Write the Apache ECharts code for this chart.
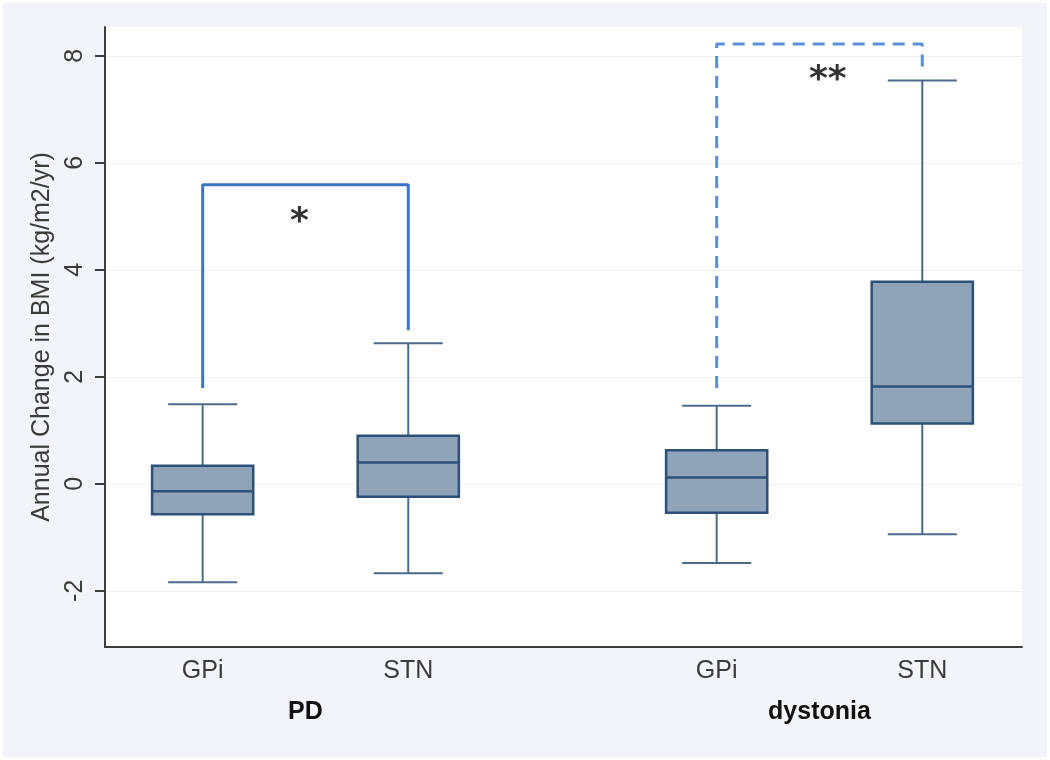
<!DOCTYPE html>
<html>
<head>
<meta charset="utf-8">
<script src="https://cdn.jsdelivr.net/npm/echarts@6/dist/echarts.min.js"></script>
<style>
html,body{margin:0;padding:0;background:#ffffff;}
#chart{position:absolute;left:3px;top:3px;width:1044px;height:754px;}
</style>
</head>
<body>
<div id="chart"></div>
<script>
// ---- data ----
const categories = ['GPi', 'STN', 'GPi', 'STN'];
const positions = [1, 2, 3.5, 4.5];
const groups = ['PD', 'dystonia'];
const groupCenters = [1.5, 4];
const whiskerLow = [-1.84, -1.67, -1.48, -0.94];
const q1 = [-0.57, -0.24, -0.54, 1.13];
const median = [-0.14, 0.40, 0.12, 1.82];
const q3 = [0.34, 0.90, 0.63, 3.78];
const whiskerHigh = [1.49, 2.63, 1.46, 7.54];
const yTicks = [-2, 0, 2, 4, 6, 8];
const bracketPD = [[1, 1.79], [1, 5.59], [2, 5.59], [2, 2.87]];
const bracketDys = [[3.5, 1.79], [3.5, 8.22], [4.5, 8.22], [4.5, 7.71]];
const starLabels = ['*', '**'];
const starPos = [[1.47, 4.88], [4.04, 7.53]];

const boxData = positions.map((p, i) => [p, whiskerLow[i], q1[i], median[i], q3[i], whiskerHigh[i]]);

const chart = echarts.init(document.getElementById('chart'));
const FONT = 'Liberation Sans, Arial, sans-serif';

function renderBox(params, api) {
  const x = api.value(0);
  const lo = api.value(1), a = api.value(2), m = api.value(3), b = api.value(4), hi = api.value(5);
  const hb = 0.246, hc = 0.168;
  const pLo = api.coord([x, lo]), pA = api.coord([x, a]), pM = api.coord([x, m]), pB = api.coord([x, b]), pHi = api.coord([x, hi]);
  const xl = api.coord([x - hb, 0])[0], xr = api.coord([x + hb, 0])[0];
  const cl = api.coord([x - hc, 0])[0], cr = api.coord([x + hc, 0])[0];
  const wStyle = {stroke: '#4b6b8d', lineWidth: 2};
  return {
    type: 'group',
    children: [
      {type: 'line', shape: {x1: pB[0], y1: pB[1], x2: pHi[0], y2: pHi[1]}, style: wStyle},
      {type: 'line', shape: {x1: pLo[0], y1: pLo[1], x2: pA[0], y2: pA[1]}, style: wStyle},
      {type: 'line', shape: {x1: cl, y1: pHi[1], x2: cr, y2: pHi[1]}, style: wStyle},
      {type: 'line', shape: {x1: cl, y1: pLo[1], x2: cr, y2: pLo[1]}, style: wStyle},
      {type: 'rect', shape: {x: xl, y: pB[1], width: xr - xl, height: pA[1] - pB[1]},
        style: {fill: '#8fa3b9', stroke: '#2d5078', lineWidth: 2.5}},
      {type: 'line', shape: {x1: xl, y1: pM[1], x2: xr, y2: pM[1]}, style: {stroke: '#2d5078', lineWidth: 2.5}}
    ]
  };
}

chart.setOption({
  backgroundColor: '#f3f4f9',
  animation: false,
  grid: {left: 102, top: 24, right: 25, bottom: 110, show: true, backgroundColor: '#ffffff', borderWidth: 0},
  xAxis: {
    type: 'value', min: 0.525, max: 4.985,
    splitLine: {show: false},
    axisLine: {show: true, onZero: false, lineStyle: {color: '#3c3c3c', width: 2}},
    axisTick: {show: false},
    axisLabel: {
      customValues: positions,
      formatter: v => categories[positions.indexOf(v)] || '',
      fontFamily: FONT, fontSize: 25, color: '#3a3a3a', margin: 12
    }
  },
  yAxis: {
    type: 'value', min: -3.05, max: 8.54,
    name: 'Annual Change in BMI (kg/m2/yr)',
    nameLocation: 'middle', nameGap: 49,
    nameTextStyle: {fontFamily: FONT, fontSize: 25, color: '#3a3a3a'},
    splitLine: {show: false},
    axisLine: {show: true, onZero: false, lineStyle: {color: '#3c3c3c', width: 2}},
    axisTick: {show: true, customValues: yTicks, length: 10, lineStyle: {color: '#3c3c3c', width: 2}},
    axisLabel: {customValues: yTicks, rotate: 90, fontFamily: FONT, fontSize: 25, color: '#3a3a3a', margin: 17}
  },
  series: [
    {
      type: 'line', data: [], silent: true, z: 0,
      markLine: {
        silent: true, symbol: 'none', label: {show: false}, z: 0,
        lineStyle: {color: '#eceef4', width: 1, type: 'solid'},
        data: yTicks.map(t => ({yAxis: t}))
      }
    },
    {
      type: 'custom', renderItem: renderBox, data: boxData,
      encode: {x: 0, y: [1, 2, 3, 4, 5]}, z: 3
    },
    {
      type: 'line', data: bracketPD, symbol: 'none', z: 4,
      lineStyle: {color: '#3b75c6', width: 3}
    },
    {
      type: 'line', data: bracketDys, symbol: 'none', z: 4,
      lineStyle: {color: '#5a8fd8', width: 3, type: [12, 8]}
    },
    {
      type: 'scatter', symbolSize: 0, z: 5,
      data: starPos.map((p, i) => ({value: p, name: starLabels[i]})),
      label: {show: true, position: 'inside', formatter: p => p.name,
        fontFamily: 'DejaVu Sans', fontSize: 36, fontWeight: 'bold', color: '#000'}
    }
  ]
});

chart.setOption({
  graphic: groups.map((g, i) => ({
    type: 'text',
    x: chart.convertToPixel({xAxisIndex: 0}, groupCenters[i]),
    y: 709,
    style: {text: g, fontFamily: FONT, fontSize: 25, fontWeight: 'bold', fill: '#111', align: 'center', verticalAlign: 'middle'}
  }))
});
</script>
</body>
</html>
